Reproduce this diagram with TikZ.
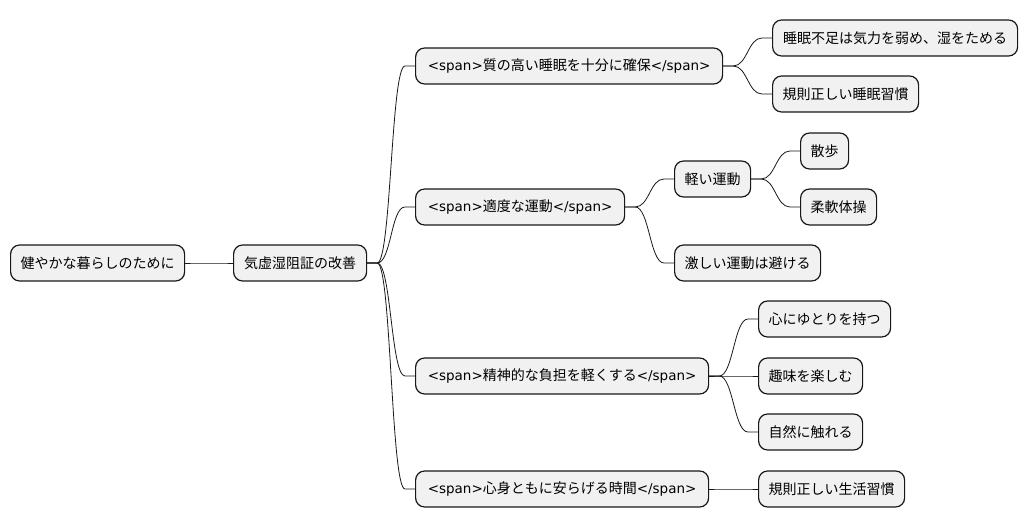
\documentclass[tikz,border=0pt]{standalone}
\usepackage{fontspec}
\setmainfont{Noto Sans CJK JP}
\newfontfamily\latinfont{DejaVu Sans}
\usepackage{tikz}
\usetikzlibrary{calc,positioning}
\definecolor{boxfill}{HTML}{F1F1F1}
\definecolor{boxline}{HTML}{181818}
\newcommand{\tagopen}{{\latinfont\fontsize{13.5pt}{17pt}\selectfont <span>}}
\newcommand{\tagclose}{{\latinfont\fontsize{13.5pt}{17pt}\selectfont </span>}}

\tikzset{
  idea/.style={draw=boxline, fill=boxfill, rounded corners=9pt, line width=1.2pt,
    minimum height=36pt, inner xsep=0pt, anchor=west, font=\fontsize{14pt}{17pt}\selectfont},
  branch/.style={draw=boxline, line width=0.8pt}
}

\begin{document}
\begin{tikzpicture}[x=1pt, y=1pt]
  \useasboundingbox (0,0) rectangle (1027,527);

  % root and central topic
  \node[idea, minimum width=174pt] (root) at (10,264) {健やかな暮らしのために};
  \node[idea, minimum width=133pt] (kikyo) at (233,264) {気虚湿阻証の改善};

  % first level
  \node[idea, minimum width=307pt] (sleep) at (415,461) {\tagopen 質の高い睡眠を十分に確保\tagclose};
  \node[idea, minimum width=209pt] (move) at (415,320) {\tagopen 適度な運動\tagclose};
  \node[idea, minimum width=293pt] (mind) at (415,151) {\tagopen 精神的な負担を軽くする\tagclose};
  \node[idea, minimum width=293pt] (rest) at (415,38) {\tagopen 心身ともに安らげる時間\tagclose};

  % sleep
  \node[idea, minimum width=245pt] (sleepA) at (772,489) {睡眠不足は気力を弱め、湿をためる};
  \node[idea, minimum width=146pt] (sleepB) at (772,433) {規則正しい睡眠習慣};

  % exercise
  \node[idea, minimum width=76pt] (light) at (674,348) {軽い運動};
  \node[idea, minimum width=48pt] (walk) at (800,376) {散歩};
  \node[idea, minimum width=76pt] (stretch) at (800,320) {柔軟体操};
  \node[idea, minimum width=146pt] (hard) at (674,264) {激しい運動は避ける};

  % mind
  \node[idea, minimum width=132pt] (mindA) at (758,208) {心にゆとりを持つ};
  \node[idea, minimum width=104pt] (mindB) at (758,151) {趣味を楽しむ};
  \node[idea, minimum width=104pt] (mindC) at (758,95) {自然に触れる};

  % rest
  \node[idea, minimum width=146pt] (restA) at (758,38) {規則正しい生活習慣};

  % branches
  \foreach \p/\c in {root/kikyo, kikyo/sleep, kikyo/move, kikyo/mind, kikyo/rest,
      sleep/sleepA, sleep/sleepB, move/light, move/hard, light/walk, light/stretch,
      mind/mindA, mind/mindB, mind/mindC, rest/restA}
    \draw[branch] (\p.east) -- ++(10,0)
      .. controls +(14,0) and ($(\c.west)+(-24,0)$) .. ($(\c.west)+(-10,0)$) -- (\c.west);
\end{tikzpicture}
\end{document}
